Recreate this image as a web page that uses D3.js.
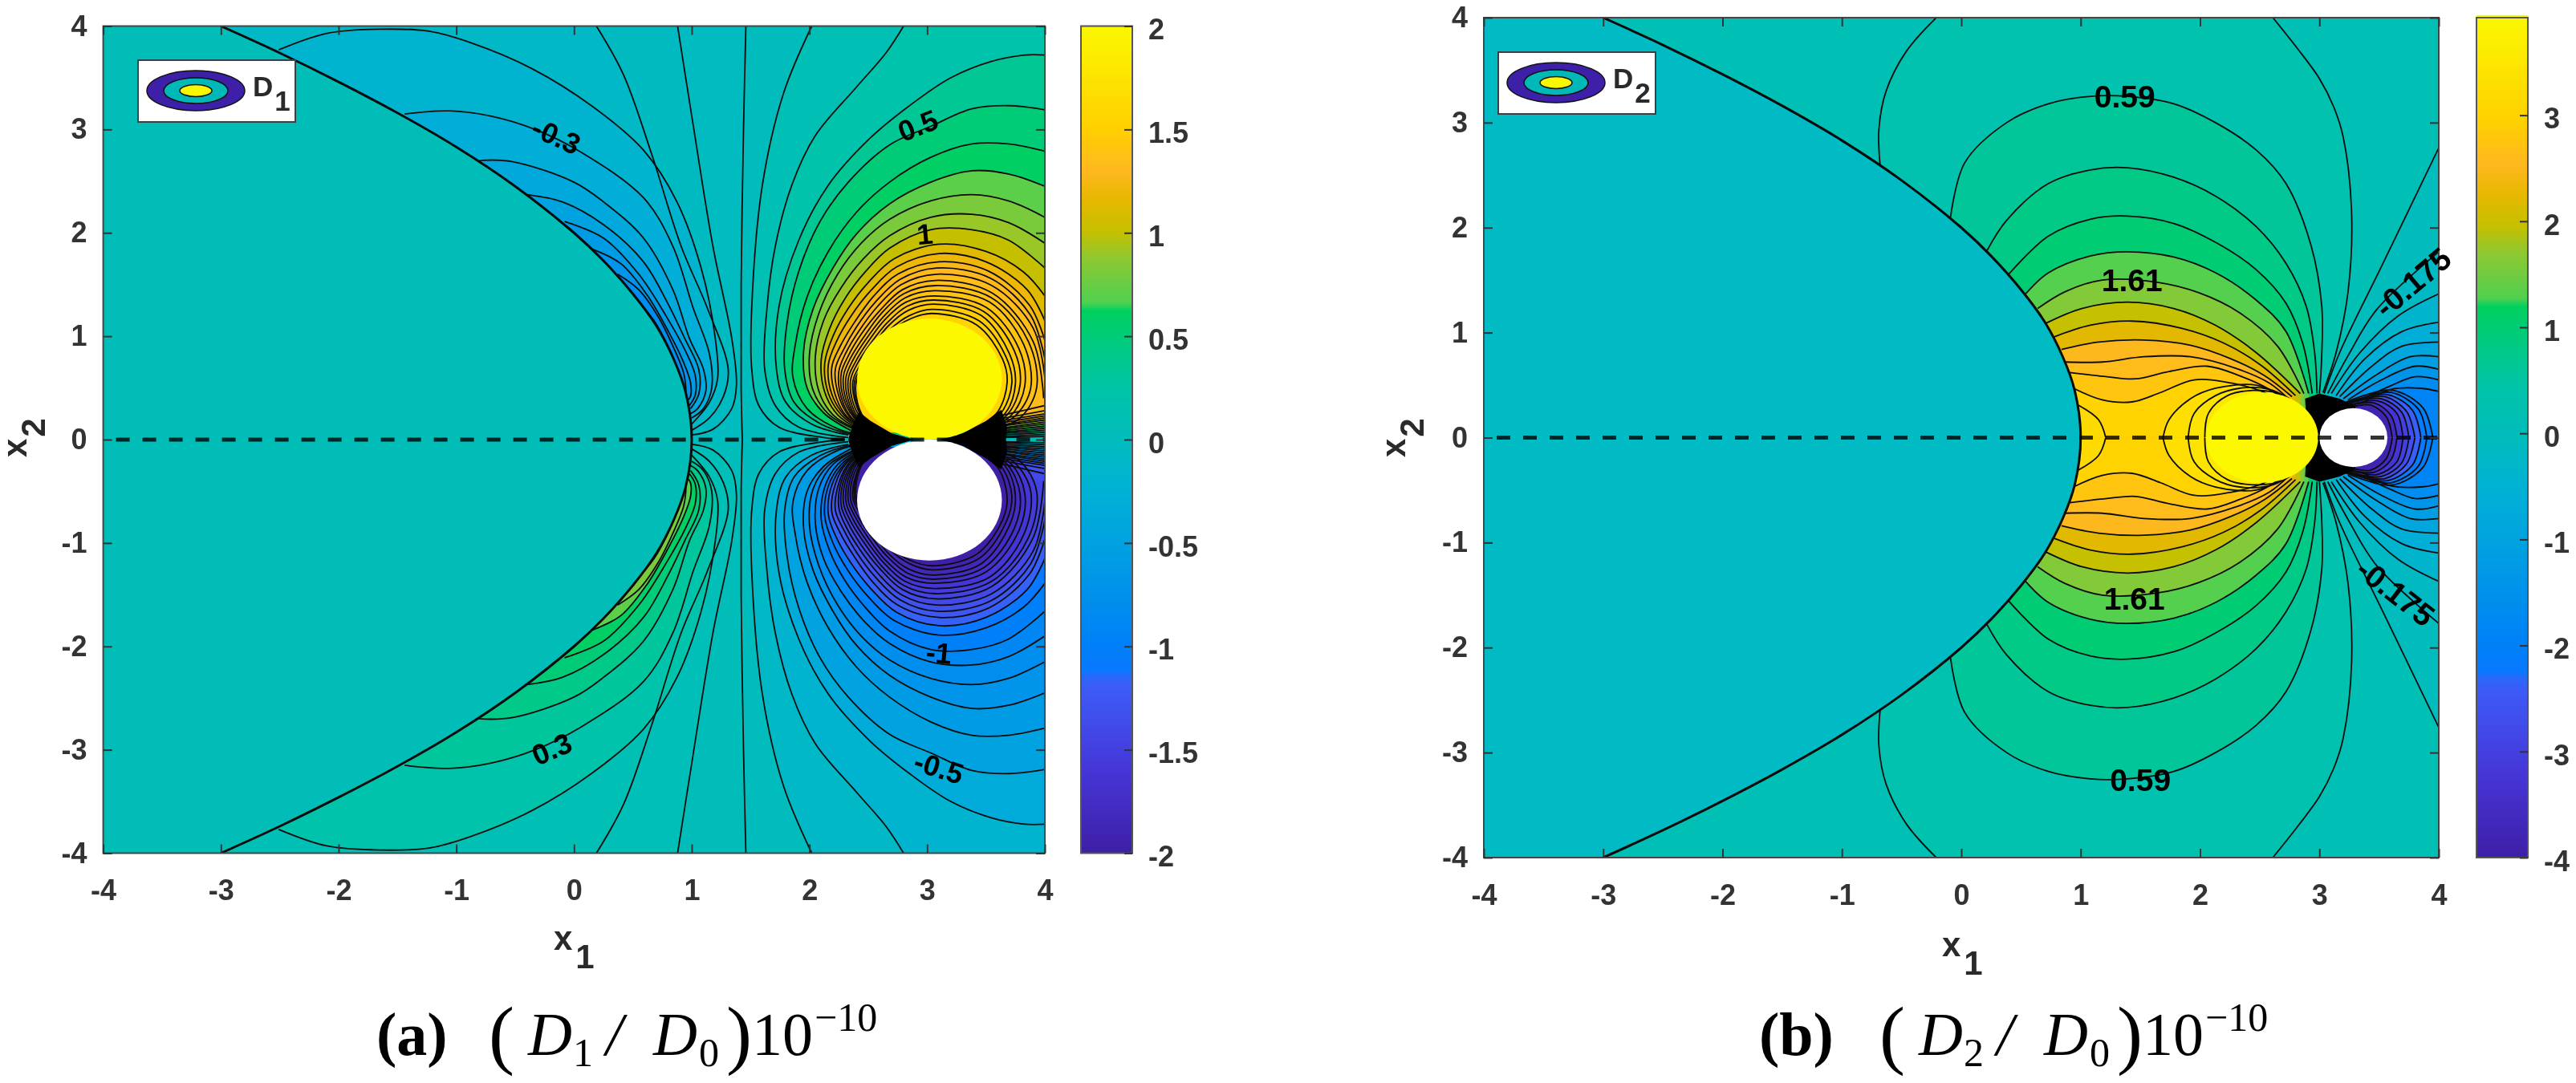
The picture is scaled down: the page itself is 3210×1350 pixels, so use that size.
<!DOCTYPE html>
<html>
<head>
<meta charset="utf-8">
<script src="https://cdnjs.cloudflare.com/ajax/libs/d3/7.8.5/d3.min.js"></script>
<style>
  body { margin: 0; background: #fff; }
  svg { display: block; filter: blur(0.7px); }
</style>
</head>
<body>
<div id="chart"></div>
<script>
// tick labels
var axisTicks = [-4, -3, -2, -1, 0, 1, 2, 3, 4];
var barTicksA = [-2, -1.5, -1, -0.5, 0, 0.5, 1, 1.5, 2];
var barTicksB = [-4, -3, -2, -1, 0, 1, 2, 3];

// colour bar, stops as a fraction of its height
var barStops = [0, 0.1, 0.2, 0.2125, 0.22, 0.25, 0.375, 0.44, 0.5, 0.56, 0.625, 0.655, 0.665, 0.72, 0.75, 0.79, 0.825, 0.875, 1];
var barColors = ["#3f1fa6", "#4636d8", "#3d5cf8", "#2a68fa", "#0a78ff", "#0080f8", "#00a2e0", "#00b2d4", "#00bcbc", "#00c4a8", "#00cc78", "#00d060", "#50d050", "#90c830", "#c4c000", "#e8b800", "#ffb820", "#ffd000", "#fbf800"];

// hyperbola edge, upper half (both panels)
var edgeLine = [[-3,4],[-2.5,3.74],[-2,3.46],[-1.5,3.16],[-1,2.83],[-0.5,2.45],[0,2],[0.25,1.73],[0.5,1.41],[0.7,1.1],[0.85,0.77],[0.95,0.45],[1,0]];

// panel a: contours right of the zero line, upper half (lower half has the same shape, opposite sign)
var posLevelsA = [0.1, 0.2, 0.35, 0.5, 0.6, 0.7, 0.8, 0.9, 1, 1.12, 1.2, 1.26, 1.3, 1.33, 1.35, 1.37, 1.39, 1.41, 1.44, 1.47, 1.5, 1.55];
var lowLevelsA = [-0.1, -0.2, -0.35, -0.5, -0.6, -0.7, -0.8, -0.9, -1, -1.1, -1.18, -1.25, -1.32, -1.4, -1.47, -1.55, -1.62, -1.7, -1.77, -1.85, -1.92, -2];
var posLinesA = [
  [[2.02,4],[1.78,3.35],[1.6,2.46],[1.51,1.28],[1.51,0.68],[1.57,0.33],[1.74,0.12],[2.12,0.02],[2.3,0]],
  [[2.8,4],[2.65,3.74],[2.4,3.41],[2.05,2.94],[1.85,2.46],[1.71,1.87],[1.64,1.28],[1.62,0.68],[1.71,0.33],[1.91,0.12],[2.33,0.02]],
  [[4,3.72],[3.83,3.72],[3.55,3.66],[3.2,3.5],[2.85,3.23],[2.51,2.91],[2.16,2.46],[1.91,1.93],[1.74,1.28],[1.72,0.68],[1.8,0.36],[2.02,0.15],[2.33,0.045]],
  [[4,3.19],[3.7,3.23],[3.38,3.2],[3.03,3.03],[2.68,2.85],[2.33,2.49],[2.09,2.11],[1.91,1.63],[1.81,1.13],[1.79,0.68],[1.87,0.36],[2.1,0.15],[2.37,0.045]],
  [[4,2.79],[3.69,2.86],[3.38,2.86],[3.03,2.73],[2.68,2.49],[2.4,2.2],[2.16,1.82],[1.98,1.38],[1.88,0.92],[1.86,0.6],[1.98,0.3],[2.25,0.1],[2.44,0.05]],
  [[4,2.45],[3.69,2.57],[3.38,2.6],[3.03,2.49],[2.68,2.28],[2.4,1.99],[2.2,1.66],[2.03,1.26],[1.95,0.85],[1.98,0.5],[2.12,0.26],[2.35,0.09]],
  [[4,2.15],[3.69,2.31],[3.38,2.37],[3.03,2.31],[2.68,2.13],[2.44,1.9],[2.24,1.6],[2.08,1.22],[2,0.82],[2.03,0.48],[2.16,0.25],[2.38,0.1]],
  [[4,1.9],[3.69,2.1],[3.38,2.18],[3.03,2.15],[2.68,1.97],[2.46,1.75],[2.27,1.47],[2.12,1.15],[2.05,0.8],[2.08,0.47],[2.2,0.24],[2.4,0.1]],
  [[4,1.66],[3.69,1.93],[3.38,2.03],[3.03,2.03],[2.68,1.85],[2.48,1.63],[2.3,1.36],[2.17,1.07],[2.1,0.77],[2.13,0.46],[2.24,0.24],[2.42,0.1]],
  [[4,1.39],[3.82,1.62],[3.5,1.82],[3.1,1.89],[2.72,1.75],[2.5,1.52],[2.33,1.27],[2.2,1],[2.13,0.74],[2.16,0.45],[2.27,0.24],[2.44,0.1]],
  [[4,1.15],[3.85,1.45],[3.5,1.72],[3.1,1.8],[2.74,1.67],[2.52,1.44],[2.35,1.19],[2.23,0.95],[2.16,0.72],[2.19,0.44],[2.3,0.23],[2.46,0.1]],
  [[4,0.96],[3.87,1.3],[3.52,1.63],[3.1,1.72],[2.75,1.6],[2.54,1.38],[2.38,1.13],[2.26,0.9],[2.19,0.7],[2.22,0.43],[2.32,0.22],[2.48,0.1]],
  [[4,0.78],[3.88,1.2],[3.54,1.56],[3.08,1.66],[2.77,1.55],[2.56,1.33],[2.4,1.09],[2.29,0.87],[2.22,0.68],[2.25,0.42],[2.34,0.22],[2.5,0.09]],
  [[4,0.6],[3.9,1.08],[3.55,1.49],[3.08,1.6],[2.78,1.5],[2.58,1.29],[2.42,1.05],[2.31,0.84],[2.25,0.66],[2.27,0.41],[2.36,0.21],[2.52,0.09]],
  [[3.99,0.4],[3.9,0.95],[3.55,1.42],[3.07,1.54],[2.79,1.45],[2.6,1.25],[2.44,1.02],[2.33,0.81],[2.27,0.64],[2.29,0.4],[2.38,0.21],[2.54,0.08]],
  [[3.5,0.09],[3.78,0.2],[3.93,0.5],[3.86,0.95],[3.55,1.37],[3.07,1.49],[2.8,1.41],[2.61,1.22],[2.46,0.99],[2.35,0.79],[2.29,0.62],[2.31,0.39],[2.4,0.2],[2.56,0.08]],
  [[3.48,0.09],[3.74,0.22],[3.88,0.5],[3.82,0.92],[3.53,1.33],[3.06,1.44],[2.81,1.37],[2.63,1.19],[2.48,0.97],[2.37,0.77],[2.31,0.6],[2.33,0.38],[2.41,0.2],[2.57,0.08]],
  [[3.46,0.09],[3.71,0.23],[3.83,0.52],[3.78,0.88],[3.5,1.28],[3.06,1.39],[2.82,1.33],[2.64,1.16],[2.5,0.95],[2.39,0.75],[2.33,0.59],[2.35,0.37],[2.43,0.19],[2.58,0.08]],
  [[3.44,0.09],[3.68,0.24],[3.79,0.53],[3.74,0.86],[3.48,1.24],[3.05,1.35],[2.83,1.29],[2.66,1.13],[2.52,0.93],[2.41,0.74],[2.35,0.58],[2.37,0.36],[2.45,0.19],[2.59,0.07]],
  [[3.42,0.08],[3.66,0.25],[3.75,0.54],[3.7,0.83],[3.46,1.2],[3.05,1.31],[2.84,1.25],[2.67,1.1],[2.54,0.91],[2.43,0.72],[2.37,0.57],[2.39,0.36],[2.47,0.18],[2.6,0.07]],
  [[3.4,0.08],[3.63,0.26],[3.72,0.55],[3.67,0.8],[3.44,1.15],[3.04,1.26],[2.85,1.2],[2.69,1.07],[2.56,0.89],[2.45,0.71],[2.385,0.57],[2.4,0.35],[2.48,0.18],[2.62,0.07]],
  [[3.38,0.08],[3.6,0.27],[3.68,0.56],[3.64,0.78],[3.42,1.11],[3.04,1.22],[2.86,1.17],[2.7,1.05],[2.58,0.88],[2.47,0.7],[2.4,0.57],[2.41,0.35],[2.49,0.17],[2.63,0.07]]
];
// where those contours come back in through the right edge, and their next point inwards
var tailEdgeA = [0.03,0.05,0.07,0.09,0.11,0.13,0.15,0.17,0.19,0.21,0.23,0.25,0.28,0.33];
var tailInnerA = [0.02,0.03,0.045,0.06,0.07,0.085,0.1,0.11,0.13,0.14,0.16,0.18,0.2,0.23];

// panel a: contours between the edge and the zero line, upper half
var negLevelsA = [-0.05, -0.1, -0.2, -0.3, -0.4, -0.5, -0.6, -0.7, -0.8, -0.9, -1];
var negLinesA = [
  [[0.88,4],[1.01,3.06],[1.18,1.87],[1.34,0.98],[1.38,0.53],[1.34,0.3],[1.18,0.1],[1,0.045]],
  [[0.19,4],[0.42,3.53],[0.66,2.76],[0.91,1.87],[1.13,1.28],[1.31,0.68],[1.27,0.42],[1.15,0.21],[1,0.09]],
  [[-2.51,3.77],[-2.1,3.93],[-1.65,3.97],[-1.23,3.95],[-0.88,3.84],[-0.36,3.59],[0.16,3.22],[0.59,2.8],[0.87,2.31],[1.08,1.66],[1.2,0.98],[1.22,0.59],[1.15,0.36],[1,0.15]],
  [[-1.44,3.15],[-1.06,3.18],[-0.71,3.13],[-0.33,3],[0.06,2.78],[0.59,2.34],[0.84,1.87],[1.01,1.28],[1.15,0.83],[1.17,0.5],[1.1,0.3],[1,0.21]],
  [[-0.81,2.7],[-0.53,2.69],[0,2.49],[0.25,2.3],[0.59,1.95],[0.84,1.45],[0.98,0.98],[1.1,0.68],[1.12,0.47],[1.05,0.3],[0.99,0.25]],
  [[-0.4,2.37],[-0.1,2.3],[0.25,2.08],[0.59,1.72],[0.8,1.31],[0.94,0.98],[1.06,0.68],[1.06,0.44],[0.99,0.3]],
  [[-0.08,2.11],[0.25,1.95],[0.55,1.6],[0.78,1.2],[0.95,0.85],[1.03,0.62],[1.03,0.43],[0.98,0.33]],
  [[0.16,1.84],[0.4,1.7],[0.62,1.4],[0.8,1.05],[0.93,0.75],[0.99,0.55],[0.99,0.42],[0.96,0.37]],
  [[0.37,1.6],[0.55,1.45],[0.72,1.18],[0.85,0.88],[0.93,0.65],[0.95,0.5],[0.95,0.45]],
  [[0.54,1.34],[0.68,1.15],[0.8,0.9],[0.88,0.68],[0.91,0.55]],
  [[0.66,1.15],[0.76,0.98],[0.85,0.75],[0.88,0.6]]
];
var zeroLineA = [[1.46,4],[1.44,3],[1.42,1.5],[1.42,0.5],[1.43,0]];
// solid dark knots either side of the disc, from the contours running together
var knotLeftA = [[2.89,0],[2.7,0.06],[2.52,0.18],[2.42,0.27],[2.36,0.12],[2.33,0]];
var knotRightA = [[3.11,0],[3.3,0.06],[3.5,0.18],[3.63,0.29],[3.68,0.12],[3.67,0]];
// cx, cy, rx, ry
var discA = [3.02, 0.585, 0.615, 0.585];
// x, y, text, angle
var labelsA = [
  [-0.15, 2.94, "-0.3", 24], [2.92, 3.04, "0.5", -21], [2.98, 1.99, "1", -5],
  [-0.19, -2.99, "0.3", -23], [3.1, -2.06, "-1", 5], [3.1, -3.17, "-0.5", 17]
];

// panel b: upper half, lower half is the mirror image with the same levels
var posLevelsB = [0.59, 0.8, 1, 1.3, 1.61, 1.95, 2.2, 2.5, 2.6, 2.75, 3];
var posLinesB = [
  [[-0.09,2.1],[0.03,2.62],[0.38,3],[0.73,3.18],[1.08,3.25],[1.39,3.25],[1.78,3.18],[2.13,3],[2.47,2.74],[2.72,2.42],[2.93,1.83],[3.02,1.25],[3.02,0.8],[3,0.42]],
  [[0.21,1.77],[0.38,2.07],[0.73,2.42],[1.08,2.55],[1.39,2.57],[1.78,2.48],[2.13,2.3],[2.47,2.01],[2.72,1.66],[2.89,1.25],[2.96,0.81],[2.98,0.42]],
  [[0.4,1.56],[0.73,1.92],[1.08,2.08],[1.39,2.11],[1.78,2.04],[2.13,1.86],[2.47,1.6],[2.72,1.28],[2.86,0.9],[2.94,0.42]],
  [[0.54,1.37],[0.73,1.57],[1.08,1.73],[1.39,1.77],[1.78,1.72],[2.13,1.57],[2.47,1.31],[2.72,1.01],[2.91,0.42]],
  [[0.64,1.23],[0.87,1.39],[1.18,1.5],[1.64,1.48],[1.99,1.38],[2.33,1.19],[2.65,0.87],[2.87,0.42]],
  [[0.71,1.09],[1.01,1.23],[1.39,1.29],[1.78,1.23],[2.13,1.07],[2.47,0.81],[2.84,0.42]],
  [[0.78,0.96],[1.08,1.07],[1.43,1.11],[1.85,1.04],[2.2,0.9],[2.51,0.69],[2.8,0.4]],
  [[0.84,0.84],[1.15,0.91],[1.53,0.93],[1.92,0.88],[2.26,0.75],[2.54,0.59],[2.77,0.39]],
  [[0.87,0.72],[1.18,0.72],[1.53,0.77],[1.92,0.77],[2.3,0.66],[2.58,0.52],[2.74,0.37]],
  [[0.91,0.62],[1.22,0.58],[1.46,0.56],[1.74,0.63],[2.06,0.68],[2.33,0.59],[2.58,0.46],[2.7,0.36]],
  [[0.94,0.47],[1.18,0.36],[1.43,0.34],[1.67,0.43],[1.95,0.55],[2.26,0.52],[2.54,0.43],[2.68,0.33]]
];
// the outermost positive contour leaves the frame through the top, so it comes in two pieces
var outerLevelB = 0.3;
var outerLeftB = [[-0.68,2.59],[-0.69,2.94],[-0.63,3.3],[-0.46,3.68],[-0.21,4]];
var outerRightB = [[2.61,4],[2.82,3.7],[3,3.42],[3.12,3.15],[3.2,2.86],[3.27,2.13],[3.24,1.39],[3.14,0.81],[3.03,0.43]];
// closed lenses on the axis
var lensLevelsB = [3.2, 3.3, 3.4, 3.5];
var lensLinesB = [
  [[0.98,0.31],[1.15,0.17],[1.21,0]],
  [[1.69,0],[1.74,0.17],[1.92,0.37],[2.13,0.47],[2.47,0.5],[2.68,0.4]],
  [[1.9,0],[1.95,0.23],[2.13,0.4],[2.33,0.47],[2.58,0.46],[2.75,0.37]],
  [[2.04,0],[2.07,0.23],[2.23,0.4],[2.44,0.45],[2.65,0.43]]
];
// fan of negative contours going out of the right edge
var fanLevelsB = [-0.05, -0.175, -0.4, -0.65, -0.9, -1.15, -1.4, -1.65, -1.9];
var fanLinesB = [
  [[4,2.76],[3.52,1.63],[3.17,0.81],[3.04,0.42]],
  [[4,1.77],[3.48,1.22],[3.24,0.78],[3.07,0.42]],
  [[4,1.37],[3.66,1.16],[3.34,0.81],[3.1,0.42]],
  [[4,1.1],[3.69,1.01],[3.38,0.75],[3.14,0.4]],
  [[4,0.91],[3.69,0.87],[3.45,0.69],[3.17,0.39]],
  [[4,0.77],[3.76,0.77],[3.48,0.6],[3.2,0.37]],
  [[4,0.65],[3.8,0.68],[3.52,0.55],[3.24,0.36]],
  [[4,0.55],[3.8,0.58],[3.59,0.49],[3.31,0.34]],
  [[4,0.44],[3.85,0.47],[3.6,0.46],[3.36,0.33]]
];
// rings round the white disc
var ringLevelsB = [-2.05, -2.2, -2.4, -2.7, -3, -3.3, -3.6, -3.85];
var ringLinesB = [
  [[3.95,0],[3.87,0.28],[3.62,0.45],[3.37,0.4],[3.15,0.3]],
  [[3.9,0],[3.83,0.27],[3.6,0.43],[3.36,0.38],[3.15,0.3]],
  [[3.85,0],[3.78,0.26],[3.57,0.41],[3.35,0.37],[3.15,0.29]],
  [[3.8,0],[3.73,0.25],[3.55,0.39],[3.34,0.36],[3.15,0.29]],
  [[3.75,0],[3.69,0.24],[3.52,0.37],[3.33,0.35],[3.15,0.28]],
  [[3.7,0],[3.65,0.23],[3.49,0.35],[3.32,0.33],[3.15,0.28]],
  [[3.65,0],[3.6,0.21],[3.46,0.33],[3.31,0.32],[3.15,0.27]],
  [[3.61,0],[3.56,0.2],[3.43,0.31],[3.3,0.3],[3.15,0.27]]
];
var knotB = [[2.9,0],[2.88,0.37],[3,0.42],[3.17,0.37],[3.3,0.3],[3.3,0]];
var yellowDiscB = [2.52, 0, 0.47, 0.43];
var whiteDiscB = [3.285, 0, 0.285, 0.28];
var labelsB = [
  [1.37, 3.25, "0.59", 0], [1.43, 1.5, "1.61", 0], [3.78, 1.48, "-0.175", -40],
  [1.45, -1.53, "1.61", 0], [1.5, -3.26, "0.59", 0], [3.64, -1.47, "-0.175", 38]
];

var svg = d3.select("#chart").append("svg")
  .attr("width", 3210)
  .attr("height", 1350)
  .attr("font-family", "Liberation Sans");

var barColor = d3.scaleLinear().domain(barStops).range(barColors);

// frame, scales and clip for one panel
function makePanel(id, left, right, top, bottom) {
  var g = svg.append("g");
  var x = d3.scaleLinear().domain([-4, 4]).range([left, right]);
  var y = d3.scaleLinear().domain([-4, 4]).range([bottom, top]);
  svg.append("clipPath").attr("id", id)
    .append("rect").attr("x", left).attr("y", top)
    .attr("width", right - left).attr("height", bottom - top);
  var plot = g.append("g").attr("clip-path", "url(#" + id + ")");
  return {g: g, plot: plot, x: x, y: y, left: left, right: right, top: top, bottom: bottom};
}

function pathOf(p, pts, s) {
  return d3.line()
    .x(function(d) { return p.x(d[0]); })
    .y(function(d) { return p.y(d[1] * s); })
    .curve(d3.curveCatmullRom.alpha(0.5))(pts);
}

function cornersOf(p, pts, s) {
  return pts.map(function(d) { return "L" + p.x(d[0]) + "," + p.y(d[1] * s); }).join("");
}

function fill(p, d, color) {
  p.plot.append("path").attr("d", d).attr("fill", color).attr("stroke", "none");
}

function line(p, pts, s, width) {
  p.plot.append("path").attr("d", pathOf(p, pts, s))
    .attr("fill", "none").attr("stroke", "#0c0c0c").attr("stroke-width", width || 1.8);
}

function solid(p, pts, s, color) {
  p.plot.append("path")
    .attr("d", "M" + pts.map(function(d) { return p.x(d[0]) + "," + p.y(d[1] * s); }).join("L") + "Z")
    .attr("fill", color);
}

function disc(p, d, color) {
  p.plot.append("ellipse")
    .attr("cx", p.x(d[0])).attr("cy", p.y(d[1]))
    .attr("rx", p.x(d[2]) - p.x(0)).attr("ry", p.y(0) - p.y(d[3]))
    .attr("fill", color);
}

// region left of the hyperbola, its edge, the dashed axis
function finishPlot(p, color) {
  var lower = edgeLine.slice().reverse().slice(1);
  var d = pathOf(p, edgeLine.concat(lower.map(function(e) { return [e[0], -e[1]]; })), 1);
  fill(p, d + cornersOf(p, [[-4,-4],[-4,4]], 1) + "Z", color);
  p.plot.append("path").attr("d", d).attr("fill", "none").attr("stroke", "#0a0a0a").attr("stroke-width", 3);
  p.plot.append("line")
    .attr("x1", p.x(-4)).attr("x2", p.x(4)).attr("y1", p.y(0)).attr("y2", p.y(0))
    .attr("stroke", "#000").attr("stroke-opacity", 0.8).attr("stroke-width", 5)
    .attr("stroke-dasharray", "17 16").attr("stroke-dashoffset", -16);
}

function contourLabels(p, labels, size) {
  labels.forEach(function(d) {
    p.g.append("text")
      .attr("transform", "translate(" + p.x(d[0]) + "," + p.y(d[1]) + ") rotate(" + d[3] + ")")
      .attr("text-anchor", "middle").attr("dy", "0.36em")
      .attr("font-size", size).attr("font-weight", 700).attr("fill", "#000")
      .text(d[2]);
  });
}

// box axes with ticks pointing inwards
function axes(p, padLeft) {
  p.g.append("rect").attr("x", p.left).attr("y", p.top)
    .attr("width", p.right - p.left).attr("height", p.bottom - p.top)
    .attr("fill", "none").attr("stroke", "#404848").attr("stroke-width", 2);
  var styleAxis = function(a) {
    a.select(".domain").remove();
    a.selectAll(".tick line").attr("stroke", "#333").attr("stroke-width", 2);
    a.selectAll("text").attr("fill", "#333").attr("font-size", 36).attr("font-weight", 700)
      .attr("font-family", "Liberation Sans");
  };
  p.g.append("g").attr("transform", "translate(0," + p.bottom + ")")
    .call(d3.axisBottom(p.x).tickValues(axisTicks).tickSize(-11).tickPadding(33).tickFormat(String)).call(styleAxis);
  p.g.append("g").attr("transform", "translate(" + p.left + ",0)")
    .call(d3.axisLeft(p.y).tickValues(axisTicks).tickSize(-11).tickPadding(padLeft).tickFormat(String)).call(styleAxis);
  p.g.append("g").attr("transform", "translate(0," + p.top + ")")
    .call(d3.axisTop(p.x).tickValues(axisTicks).tickSize(-11).tickFormat("")).call(styleAxis);
  p.g.append("g").attr("transform", "translate(" + p.right + ",0)")
    .call(d3.axisRight(p.y).tickValues(axisTicks).tickSize(-11).tickFormat("")).call(styleAxis);
}

function colorBar(left, right, top, bottom, domain, ticks) {
  var y = d3.scaleLinear().domain(domain).range([bottom, top]);
  var t = d3.scaleLinear().domain(domain).range([0, 1]);
  d3.range(domain[0], domain[1], (domain[1] - domain[0]) / 400).forEach(function(v) {
    svg.append("rect")
      .attr("x", left).attr("width", right - left)
      .attr("y", y(v) - (bottom - top) / 400 - 0.5).attr("height", (bottom - top) / 400 + 1)
      .attr("fill", barColor(t(v)));
  });
  svg.append("rect").attr("x", left).attr("y", top)
    .attr("width", right - left).attr("height", bottom - top)
    .attr("fill", "none").attr("stroke", "#555").attr("stroke-width", 2);
  var a = svg.append("g").attr("transform", "translate(" + right + ",0)")
    .call(d3.axisRight(y).tickValues(ticks).tickSize(-10).tickPadding(20).tickFormat(String));
  a.select(".domain").remove();
  a.selectAll(".tick line").attr("stroke", "#333").attr("stroke-width", 2);
  a.selectAll("text").attr("fill", "#333").attr("font-size", 36).attr("font-weight", 700)
    .attr("font-family", "Liberation Sans").attr("dy", "0.45em");
}

// text with a lowered second part
function subText(tx, ty, angle, main, sub, gap, drop, size) {
  var t = svg.append("text")
    .attr("transform", "translate(" + tx + "," + ty + ") rotate(" + angle + ")")
    .attr("font-size", size).attr("font-weight", 700).attr("fill", "#2a2a2a");
  t.append("tspan").text(main);
  t.append("tspan").attr("dx", gap).attr("dy", drop).text(sub);
}

function legend(bx, by, main, sub) {
  svg.append("rect").attr("x", bx).attr("y", by).attr("width", 196).attr("height", 77)
    .attr("fill", "#fff").attr("stroke", "#30444a").attr("stroke-width", 2);
  var cx = bx + 72, cy = by + 38;
  [[61, 25, "#3d1fa8"], [40, 16, "#00b8b8"], [20, 7.5, "#f8f800"]].forEach(function(d) {
    svg.append("ellipse").attr("cx", cx).attr("cy", cy).attr("rx", d[0]).attr("ry", d[1])
      .attr("fill", d[2]).attr("stroke", "#111").attr("stroke-width", 1.5);
  });
  subText(bx + 143, by + 45, 0, main, sub, 2, 18, 35);
}

function caption(ox, tag, tagGap, sub) {
  var base = 1315;
  var serif = "Liberation Serif";
  var put = function(x, y, str, size, style, weight) {
    svg.append("text").attr("x", ox + x).attr("y", y).attr("font-family", serif)
      .attr("font-size", size).attr("font-style", style || "normal")
      .attr("font-weight", weight || 400).attr("fill", "#000").text(str);
  };
  put(0, base, tag, 76, "normal", 700);
  put(140 + tagGap, base + 6, "(", 96);
  put(189 + tagGap, base, "D", 76, "italic");
  put(245 + tagGap, base + 14, sub, 50);
  put(286 + tagGap, base, "/", 76, "italic");
  put(345 + tagGap, base, "D", 76, "italic");
  put(402 + tagGap, base + 14, "0", 50);
  put(436 + tagGap, base + 6, ")", 96);
  put(468 + tagGap, base, "10", 76);
  put(546 + tagGap, base - 30, "\u221210", 50);
}

// panel a
var pa = makePanel("clipA", 128.6, 1302, 32.5, 1063.5);
var colorA = function(v) { return barColor((v + 2) / 4); };
fill(pa, "M" + pa.left + "," + pa.top + "H" + pa.right + "V" + pa.bottom + "H" + pa.left + "Z", colorA(0));

[1, -1].forEach(function(s) {
  fill(pa, cornersOf(pa, [[1.43,0],[1.42,1.5],[1.44,3],[1.46,4],[-3,4],[1,0]], s).replace("L", "M") + "Z", colorA(-0.025 * s));
  posLinesA.forEach(function(pts, i) {
    var extra = [];
    if (i < tailEdgeA.length) extra.push([3.62, tailInnerA[i]], [4, tailEdgeA[i]]);
    if (pts[0][1] == 4) extra.push([4, 4]);
    fill(pa, pathOf(pa, pts, s) + cornersOf(pa, extra, s) + "Z", colorA(s > 0 ? posLevelsA[i] : lowLevelsA[i]));
  });
  negLinesA.forEach(function(pts, i) {
    var extra = pts[0][1] == 4 ? [[-3, 4]] : [];
    fill(pa, pathOf(pa, pts, s) + cornersOf(pa, extra, s) + "Z", colorA(negLevelsA[i] * s));
  });
  posLinesA.forEach(function(pts, i) {
    line(pa, pts, s);
    if (i < tailEdgeA.length) line(pa, [[4, tailEdgeA[i]], [3.62, tailInnerA[i]]], s);
  });
  negLinesA.forEach(function(pts) { line(pa, pts, s); });
  line(pa, zeroLineA, s);
  solid(pa, knotLeftA, s, "#000");
  solid(pa, knotRightA, s, "#000");
});
disc(pa, discA, "#fbf800");
disc(pa, [discA[0], -discA[1], discA[2], discA[3]], "#fff");
finishPlot(pa, "#00bdb7");
axes(pa, 20);
contourLabels(pa, labelsA, 36);
colorBar(1347, 1411, 32.5, 1063.5, [-2, 2], barTicksA);
legend(172, 75, "D", "1");
subText(690, 1184, 0, "x", "1", 4, 23, 42);
subText(33, 570, -90, "x", "2", 2, 23, 42);
caption(469, "(a)", 0, "1");

// panel b
var pb = makePanel("clipB", 1849, 3039, 22, 1069);
var colorB = function(v) { return barColor((v + 4) / 7.92); };
fill(pb, "M" + pb.left + "," + pb.top + "H" + pb.right + "V" + pb.bottom + "H" + pb.left + "Z", colorB(0.15));

[1, -1].forEach(function(s) {
  fill(pb, pathOf(pb, outerLeftB, s) + pathOf(pb, outerRightB, s).replace("M", "L") + cornersOf(pb, [[3,0],[1,0]], s) + "Z", colorB(outerLevelB));
  posLinesB.forEach(function(pts, i) {
    fill(pb, pathOf(pb, pts, s) + cornersOf(pb, [[pts[pts.length - 1][0], 0], [1, 0]], s) + "Z", colorB(posLevelsB[i]));
  });
  lensLinesB.forEach(function(pts, i) {
    var end = i == 0 ? [[1, 0]] : [[pts[pts.length - 1][0], 0]];
    fill(pb, pathOf(pb, pts, s) + cornersOf(pb, end, s) + "Z", colorB(lensLevelsB[i]));
  });
  fanLinesB.forEach(function(pts, i) {
    fill(pb, pathOf(pb, pts, s) + cornersOf(pb, [[3.1,0],[4,0]], s) + "Z", colorB(fanLevelsB[i]));
  });
  ringLinesB.forEach(function(pts, i) {
    fill(pb, pathOf(pb, pts, s) + cornersOf(pb, [[3.15,0]], s) + "Z", colorB(ringLevelsB[i]));
  });
  line(pb, outerLeftB, s);
  line(pb, outerRightB, s);
  posLinesB.concat(lensLinesB, fanLinesB, ringLinesB).forEach(function(pts) { line(pb, pts, s); });
  solid(pb, knotB, s, "#000");
});
disc(pb, yellowDiscB, "#fbf800");
disc(pb, whiteDiscB, "#fff");
finishPlot(pb, "#00bac4");
axes(pb, 20);
contourLabels(pb, labelsB, 39);
colorBar(3086, 3150, 22, 1069, [-4, 3.92], barTicksB);
legend(1867, 65, "D", "2");
subText(2420, 1192, 0, "x", "1", 4, 23, 42);
subText(1751, 570, -90, "x", "2", 2, 23, 42);
caption(2192, "(b)", 10, "2");
</script>
</body>
</html>
